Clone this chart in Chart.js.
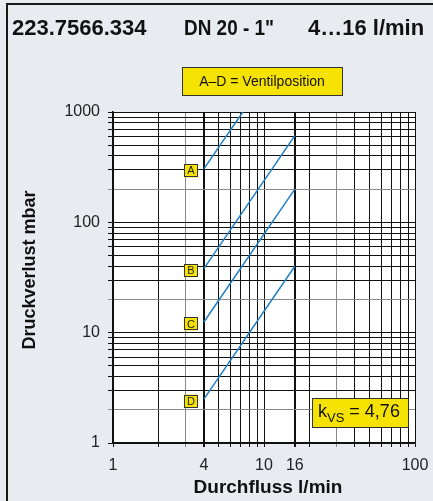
<!DOCTYPE html>
<html>
<head>
<meta charset="utf-8">
<script src="https://cdn.jsdelivr.net/npm/chart.js@4"></script>
<style>
  body { margin: 0; background: #e8ebf0; }
  #chart { display: block; }
</style>
</head>
<body>
<canvas id="chart" width="433" height="501"></canvas>
<script>
// Flow in l/min, pressure loss in mbar
const positions = ["A", "B", "C", "D"];
const flowA = [4, 7.24];
const lossA = [305, 1000];
const flowBCD = [4, 16];
const lossB = [38, 610];
const lossC = [12.5, 200];
const lossD = [2.5, 40];

// Tick values / labels
const xTickValues = [1, 2, 3, 4, 5, 6, 7, 8, 9, 10, 16, 20, 30, 40, 50, 60, 70, 80, 90, 100];
const xTickLabels = [1, 4, 10, 16, 100];
const yTickValues = [1, 2, 3, 4, 5, 6, 7, 8, 9, 10, 20, 30, 40, 50, 60, 70, 80, 90,
                     100, 200, 300, 400, 500, 600, 700, 800, 900, 1000];
const yTickLabels = [1, 10, 100, 1000];

const titleParts = ["223.7566.334", "DN 20 - 1\"", "4\u202616 l/min"];
const legendText = "A\u2013D = Ventilposition";
const kvsValue = "4,76";

const lineColor = "#1e80c6";
const boxYellow = "#f6e200";

function toPoints(xs, ys) {
    return xs.map((x, i) => ({ x: x, y: ys[i] }));
}

// draw text squeezed into a given width if needed
function fitText(ctx, text, x, y, width) {
    const w = ctx.measureText(text).width;
    const s = Math.min(1, width / w);
    ctx.save();
    ctx.translate(x, y);
    ctx.scale(s, 1);
    ctx.fillText(text, 0, 0);
    ctx.restore();
}

const decoPlugin = {
    id: "deco",
    beforeDraw(chart) {
        const ctx = chart.ctx;
        const a = chart.chartArea;
        ctx.save();
        ctx.fillStyle = "#e8ebf0";
        ctx.fillRect(0, 0, chart.width, chart.height);
        ctx.fillStyle = "#ffffff";
        ctx.fillRect(a.left, a.top, a.right - a.left, a.bottom - a.top);
        // frame
        ctx.strokeStyle = "#1a1a1a";
        ctx.lineWidth = 2;
        ctx.beginPath();
        ctx.moveTo(7, chart.height);
        ctx.lineTo(7, 4);
        ctx.lineTo(chart.width, 4);
        ctx.stroke();
        ctx.restore();
    },
    afterDraw(chart) {
        const ctx = chart.ctx;
        ctx.save();
        ctx.fillStyle = "#111";
        ctx.textBaseline = "alphabetic";
        ctx.textAlign = "left";

        // title
        ctx.font = "bold 22px 'Liberation Sans', Arial, sans-serif";
        fitText(ctx, titleParts[0], 12, 35, 137);
        fitText(ctx, titleParts[1], 184, 35, 90);
        fitText(ctx, titleParts[2], 308, 35, 119);

        // legend box
        ctx.fillStyle = boxYellow;
        ctx.fillRect(182, 67, 160, 28);
        ctx.strokeStyle = "#333";
        ctx.lineWidth = 1;
        ctx.strokeRect(182.5, 67.5, 160, 28);
        ctx.fillStyle = "#111";
        ctx.font = "14px 'Liberation Sans', Arial, sans-serif";
        ctx.textAlign = "center";
        ctx.textBaseline = "middle";
        ctx.fillText(legendText, 262, 82);

        // axis titles
        ctx.font = "bold 19px 'Liberation Sans', Arial, sans-serif";
        ctx.fillText("Durchfluss l/min", 268, 488);
        ctx.save();
        ctx.translate(30, 270);
        ctx.rotate(-Math.PI / 2);
        ctx.font = "bold 18px 'Liberation Sans', Arial, sans-serif";
        ctx.fillText("Druckverlust mbar", 0, 0);
        ctx.restore();

        // position boxes at the start of each curve
        ctx.font = "11px 'Liberation Sans', Arial, sans-serif";
        chart.data.datasets.forEach((ds, i) => {
            const p = chart.getDatasetMeta(i).data[0];
            const cx = p.x - 13, cy = p.y + 2;
            ctx.fillStyle = boxYellow;
            ctx.fillRect(cx - 7, cy - 6.5, 14, 13);
            ctx.strokeStyle = "#333";
            ctx.strokeRect(Math.round(cx - 7) + 0.5, Math.round(cy - 6.5) + 0.5, 13, 12);
            ctx.fillStyle = "#222";
            ctx.fillText(positions[i], cx, cy + 0.5);
        });

        // kvs box
        ctx.fillStyle = boxYellow;
        ctx.fillRect(312, 398, 96, 29);
        ctx.strokeStyle = "#333";
        ctx.strokeRect(312.5, 398.5, 96, 29);
        ctx.fillStyle = "#111";
        ctx.textAlign = "left";
        ctx.textBaseline = "alphabetic";
        let x = 318;
        ctx.font = "18px 'Liberation Sans', Arial, sans-serif";
        ctx.fillText("k", x, 417);
        x += ctx.measureText("k").width;
        ctx.font = "13px 'Liberation Sans', Arial, sans-serif";
        ctx.fillText("VS", x, 422);
        x += ctx.measureText("VS").width;
        ctx.font = "18px 'Liberation Sans', Arial, sans-serif";
        ctx.fillText(" = " + kvsValue, x, 417);
        ctx.restore();
    }
};

function gridColor(ctx, grayValues) {
    if (!ctx.tick) return "#111";
    return grayValues.includes(ctx.tick.value) ? "#8a8a8a" : "#111";
}

const chart = new Chart(document.getElementById("chart").getContext("2d"), {
    type: "line",
    data: {
        datasets: [
            { label: "A", data: toPoints(flowA, lossA) },
            { label: "B", data: toPoints(flowBCD, lossB) },
            { label: "C", data: toPoints(flowBCD, lossC) },
            { label: "D", data: toPoints(flowBCD, lossD) },
        ].map(ds => Object.assign(ds, {
            borderColor: lineColor,
            borderWidth: 1.5,
            pointRadius: 0,
            fill: false,
            tension: 0,
        })),
    },
    options: {
        responsive: false,
        animation: false,
        layout: { padding: { top: 112, right: 18, left: 0, bottom: 0 } },
        plugins: {
            legend: { display: false },
            tooltip: { enabled: false },
        },
        scales: {
            x: {
                type: "logarithmic",
                min: 1,
                max: 100,
                afterBuildTicks: axis => { axis.ticks = xTickValues.map(v => ({ value: v })); },
                afterFit: axis => {
                    axis.height = 58;
                    axis.paddingLeft = 0;
                    axis.paddingRight = 0;
                },
                ticks: {
                    autoSkip: false,
                    maxRotation: 0,
                    padding: 9,
                    color: "#222",
                    font: { family: "'Liberation Sans', Arial, sans-serif", size: 16 },
                    callback: v => xTickLabels.includes(v) ? String(v) : "",
                },
                grid: {
                    color: ctx => gridColor(ctx, [3, 30]),
                    lineWidth: ctx => (ctx.tick && (ctx.tick.value === 4 || ctx.tick.value === 16)) ? 2 : 1,
                    tickLength: 4,
                },
                border: { color: "#111", width: 1.5 },
            },
            y: {
                type: "logarithmic",
                min: 1,
                max: 1000,
                afterBuildTicks: axis => { axis.ticks = yTickValues.map(v => ({ value: v })); },
                afterFit: axis => {
                    axis.width = 113;
                    axis.paddingTop = 0;
                    axis.paddingBottom = 0;
                },
                ticks: {
                    autoSkip: false,
                    padding: 8,
                    color: "#222",
                    font: { family: "'Liberation Sans', Arial, sans-serif", size: 16 },
                    callback: v => yTickLabels.includes(v) ? String(v) : "",
                },
                grid: {
                    color: ctx => gridColor(ctx, [2, 20, 200]),
                    lineWidth: 1,
                    tickLength: 5,
                },
                border: { color: "#111", width: 1.5 },
            },
        },
    },
    plugins: [decoPlugin],
});
</script>
</body>
</html>
